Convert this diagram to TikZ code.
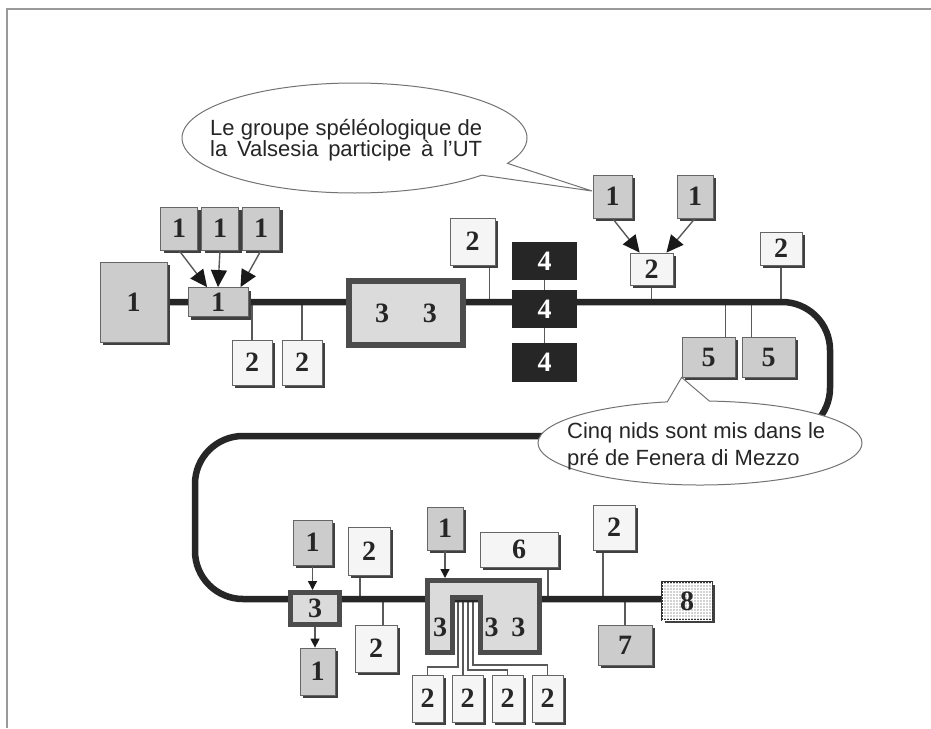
\documentclass[tikz,border=0pt]{standalone}
\usepackage{fontspec}
\setmainfont{Liberation Serif}
\setsansfont{Liberation Sans}
\usetikzlibrary{arrows.meta,shadows,shapes.callouts,patterns,calc}

\pgfdeclarelayer{bg}
\pgfsetlayers{bg,main}

\tikzset{
  dims/.style 2 args={minimum width=#1pt, minimum height=#2pt},
  num/.style={font=\fontsize{28}{28}\selectfont\bfseries, text=black!85, inner sep=0pt},
  gbox/.style={num, draw=black!60, line width=0.8pt, fill=gray!40,
    drop shadow={shadow xshift=3pt, shadow yshift=-3pt, fill=black!75, opacity=1}},
  wbox/.style={gbox, fill=gray!8},
  dbox/.style={num, fill=black!85, text=white},
  tbox/.style={num, draw=black!70, line width=6pt, fill=gray!28},
  hbox/.style={gbox, draw=black!80, line width=1.5pt, fill=gray!35,
    postaction={pattern=grid, pattern color=white}},
  ubox/.style={draw=black!70, line width=5pt, fill=gray!28},
  mainline/.style={line width=6.5pt, black!85},
  conn/.style={line width=1.4pt, black!65},
  bigarrow/.style={conn, -{Triangle[length=17pt,width=16pt,color=black!90]}},
  smallarrow/.style={conn, -{Triangle[length=9pt,width=9pt,color=black!90]}},
  bubble/.style={ellipse callout, draw=black!55, line width=1pt, fill=white, inner sep=0pt},
  saying/.style={font=\sffamily\fontsize{22}{22}\selectfont, text=black!85, inner sep=0pt, anchor=base west},
  frame/.style={draw=black!40, line width=2pt},
}

\begin{document}
\begin{tikzpicture}[x=1pt,y=-1pt]
\useasboundingbox (0,0) rectangle (931,728);
\draw[frame] (7,728) -- (7,9) -- (931,9);

% upper branch
\node[gbox, dims={67}{80}] (big1) at (133.5,302) {1};
\node[gbox, dims={60}{29}] (m1) at (218,302) {1};
\node[gbox, dims={37}{43}] (t1a) at (179,228.5) {1};
\node[gbox, dims={37}{43}] (t1b) at (220,228.5) {1};
\node[gbox, dims={37}{43}] (t1c) at (261,228.5) {1};
\node[wbox, dims={40}{45}] (w2a) at (252,362.5) {2};
\node[wbox, dims={40}{45}] (w2b) at (302,362.5) {2};
\node[tbox, dims={114}{64}] (b33) at (406,313) {3\hspace{34pt}3};
\node[wbox, dims={45}{47}] (w2c) at (472.5,241.5) {2};
\node[dbox, dims={65}{38}] (d4a) at (544.5,261) {4};
\node[dbox, dims={65}{38}] (d4b) at (544.5,309) {4};
\node[dbox, dims={65}{39}] (d4c) at (544.5,362.5) {4};
\node[gbox, dims={39}{43}] (s1a) at (612.5,196.5) {1};
\node[gbox, dims={36}{43}] (s1b) at (695,196.5) {1};
\node[wbox, dims={43}{32}] (w2d) at (651.5,269) {2};
\node[wbox, dims={42}{33}] (w2e) at (781,248.5) {2};
\node[gbox, dims={53}{40}] (g5a) at (708.5,357) {5};
\node[gbox, dims={53}{40}] (g5b) at (768.5,357) {5};

% turns of the line
\coordinate (rturn) at (830,302);
\coordinate (rback) at (830,436);
\coordinate (lturn) at (195,436);
\coordinate (lback) at (195,599);

% lower branch
\node[tbox, line width=5pt, dims={49}{32}] (s3) at (315,608.5) {3};
\node[gbox, dims={39}{45}] (b1a) at (312.5,542.5) {1};
\node[gbox, dims={35}{47}] (b1b) at (317.5,671.5) {1};
\node[wbox, dims={42}{48}] (w2f) at (369,551) {2};
\node[wbox, dims={42}{47}] (w2g) at (376,648.5) {2};
\draw[ubox] (427.5,580.5) -- (539.5,580.5) -- (539.5,652.5) -- (480,652.5)
  -- (480,597) -- (452,597) -- (452,652.5) -- (427.5,652.5) -- cycle;
\node[num] (u3a) at (440,627) {3};
\node[num] (u3b) at (505,627) {3\hspace{13pt}3};
\coordinate (utop) at (445,578);
\coordinate (n1) at (458,602);
\coordinate (n2) at (463,602);
\coordinate (n3) at (468,602);
\coordinate (n4) at (473,602);
\node[gbox, dims={36}{43}] (b1c) at (445,528.5) {1};
\node[wbox, dims={78}{35}] (w6) at (519,549.5) {6};
\node[wbox, dims={42}{45}] (w2h) at (614,527.5) {2};
\node[gbox, dims={54}{40}] (g7) at (625,645) {7};
\node[hbox, dims={50}{38}] (x8) at (687,601) {8};
\node[wbox, dims={31}{47}] (b2a) at (427.5,698.5) {2};
\node[wbox, dims={31}{47}] (b2b) at (467.5,698.5) {2};
\node[wbox, dims={31}{47}] (b2c) at (507.5,698.5) {2};
\node[wbox, dims={31}{47}] (b2d) at (547.5,698.5) {2};

% links
\begin{pgfonlayer}{bg}
\draw[conn] (w2a.north) -- (w2a.north |- big1);
\draw[conn] (w2b.north) -- (w2b.north |- big1);
\draw[conn] ([xshift=17pt]w2c.south) -- ++(0,37);
\draw[conn] (d4a) -- (d4c);
\draw[conn] (w2d.south) -- (w2d.south |- big1);
\draw[conn] (w2e.south) -- (w2e.south |- big1);
\draw[conn] ([xshift=17pt]g5a.north) -- ++(0,-35);
\draw[conn] ([xshift=-17pt]g5b.north) -- ++(0,-35);
\draw[conn] ([xshift=-9pt]w2f.south) -- ++(0,24);
\draw[conn] ([xshift=7pt]w2g.north) -- ++(0,-26);
\draw[conn] ([xshift=29pt]w6.south) -- ++(0,32);
\draw[conn] ([xshift=-11pt]w2h.south) -- ++(0,49);
\draw[conn] (g7.north) -- (g7.north |- lback);
\draw[conn] (n1) -- ++(0,65) -| (b2a.north);
\draw[conn] (n2) -- (n2 |- b2b.north);
\draw[conn] (n3) -- ++(0,68) -| (b2c.north);
\draw[conn] (n4) -- ++(0,63) -| (b2d.north);
\draw[mainline, rounded corners=48pt] (big1) -- (rturn) -- (rback) -- (lturn) -- (lback) -- (lback -| x8);
\end{pgfonlayer}

\draw[bigarrow] (t1a.south) -- ($(m1.north west)!.32!(m1.north east)$);
\draw[bigarrow] (t1b.south) -- (m1.north);
\draw[bigarrow] (t1c.south) -- ($(m1.north west)!.87!(m1.north east)$);
\draw[bigarrow] (s1a.south) -- ($(w2d.north west)!.23!(w2d.north east)$);
\draw[bigarrow] (s1b.south) -- ($(w2d.north west)!.84!(w2d.north east)$);
\draw[smallarrow] (b1a.south) -- (b1a.south |- s3.north);
\draw[smallarrow] (s3.south) -- (s3.south |- b1b.north);
\draw[smallarrow] (b1c.south) -- (utop);

% speech bubbles
\node[bubble, dims={345}{110}, callout absolute pointer={(592,191)}] (say1) at (354.5,138) {};
\node[saying] (say1a) at (210,135) {\makebox[272pt][s]{Le groupe spéléologique de}};
\node[saying] (say1b) at (210,156) {\makebox[272pt][s]{la Valsesia participe à l'UT}};
\node[bubble, dims={324}{84}, callout absolute pointer={(g5a.south west)}] (say2) at (700,443) {};
\node[saying] (say2a) at (567,438) {\makebox[258pt][s]{Cinq nids sont mis dans le}};
\node[saying] (say2b) at (567,465) {pré de Fenera di Mezzo};
\end{tikzpicture}
\end{document}
